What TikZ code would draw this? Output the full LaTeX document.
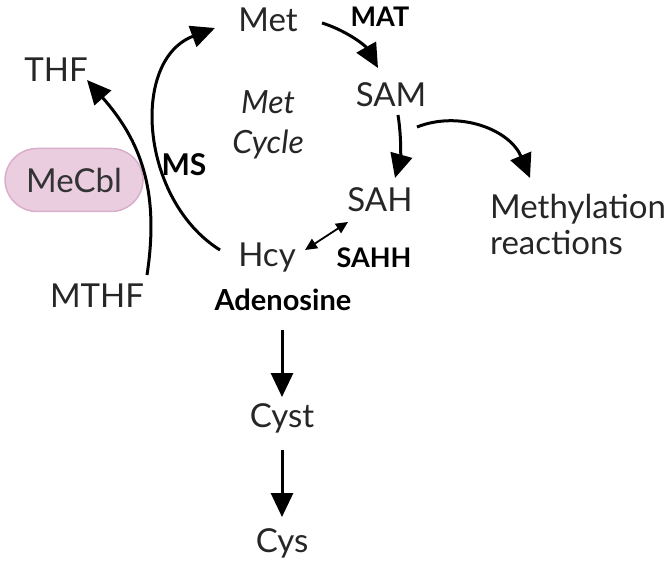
\documentclass[tikz,border=0pt]{standalone}
\usepackage{fontspec}
\setmainfont{Lato}
\usetikzlibrary{arrows.meta,calc}
\definecolor{txt}{HTML}{262626}
\definecolor{pinkfill}{HTML}{EBCDE0}
\definecolor{pinkdraw}{HTML}{D9AECB}
\tikzset{
  lbl/.style={font=\fontsize{33}{36}\selectfont, text=txt, inner sep=0pt},
  enz/.style={font=\fontsize{27}{30}\selectfont\bfseries, text=black, inner sep=0pt},
  big/.style={line width=3pt, -{Triangle[length=24pt,width=22pt]}},
  thin/.style={line width=1.8pt, {Triangle[length=12pt,width=11pt]}-{Triangle[length=12pt,width=11pt]}},
}
\begin{document}
\begin{tikzpicture}[x=1pt,y=-1pt]
\useasboundingbox (0,0) rectangle (669,564);
\node[lbl] (met) at (268,20) {Met};
\node[enz] (mat) at (380,17) {MAT};
\node[lbl] (sam) at (391,95) {SAM};
\node[lbl] (sah) at (380,200) {SAH};
\node[lbl, align=left, anchor=west] (meth) at (490,224) {Methylation\\reactions};
\node[lbl] (thf) at (56,70) {THF};
\node[lbl, font=\fontsize{32}{40}\selectfont\itshape, align=center] (cyc) at (268,125) {Met\\Cycle};
\node[enz, font=\fontsize{30}{32}\selectfont\bfseries] (ms) at (184,165) {MS};
\node[lbl, rounded corners=32pt, fill=pinkfill, draw=pinkdraw, line width=1.5pt, minimum width=138pt, minimum height=63pt, text=black!80] (mecbl) at (74,180) {MeCbl};
\node[lbl] (hcy) at (267,258) {Hcy};
\node[enz] (sahh) at (374,258) {SAHH};
\node[lbl] (mthf) at (97,296) {MTHF};
\node[enz, font=\fontsize{29}{32}\selectfont\bfseries] (ado) at (283,300) {Adenosine};
\node[lbl] (cyst) at (282,418) {Cyst};
\node[lbl] (cys) at (282,543) {Cys};
% curves
\draw[big] ($(hcy)+(-47,-8)$) .. controls (140,200) and (130,60) .. ($(met)+(-53,8)$);
\draw[big] ($(mthf)+(50,-21)$) .. controls (160,190) and (140,140) .. ($(thf)+(31,10)$);
\draw[big] ($(met)+(54,3)$) .. controls (345,30) and (365,45) .. ($(sam)+(-13,-27)$);
\draw[big] ($(sam)+(7,20)$) .. controls (402,140) and (400,160) .. ($(sah)+(15,-22)$);
\draw[big] ($(sam)+(26,32)$) .. controls (460,110) and (510,130) .. ($(meth.west)+(40,-46)$);
\draw[thin] ($(sah)+(-32,22)$) -- ($(hcy)+(38,-8)$);
\draw[big] ($(ado)+(-1,30)$) -- ($(cyst)+(0,-21)$);
\draw[big] ($(cyst)+(0,32)$) -- ($(cys)+(0,-26)$);
\end{tikzpicture}
\end{document}
